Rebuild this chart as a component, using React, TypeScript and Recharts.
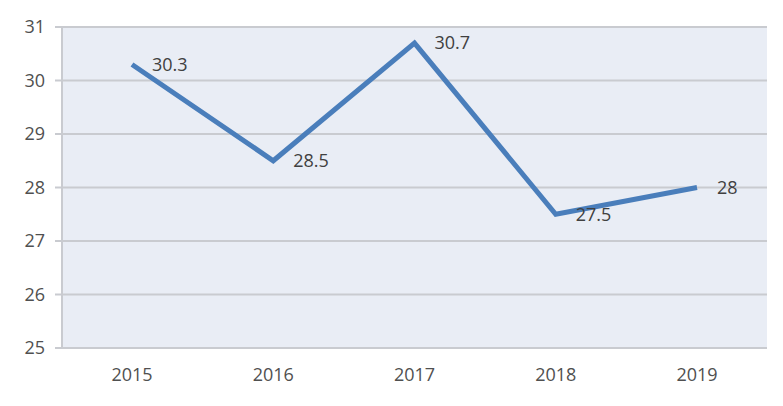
import { LineChart, Line, XAxis, YAxis, CartesianGrid, LabelList } from "recharts"

const years = ["2015", "2016", "2017", "2018", "2019"]
const values = [30.3, 28.5, 30.7, 27.5, 28]
const yTicks = [25, 26, 27, 28, 29, 30, 31]

const data = years.map((year, i) => ({ year, value: values[i] }))

const font = "'Open Sans', 'Liberation Sans', sans-serif"
const textColor = "#505050"

export default function App() {
  return (
    <div style={{ position: "absolute", left: 0, top: 0, background: "#fff" }}>
      <LineChart width={783} height={406} data={data} margin={{ top: 27, right: 16, bottom: 28, left: 0 }}>
        <CartesianGrid vertical={false} fill="#e9edf5" stroke="#c9cbd0" strokeWidth={2} />
        <XAxis
          dataKey="year"
          padding={{ left: 70, right: 70 }}
          axisLine={{ stroke: "#c9cbd0", strokeWidth: 2 }}
          tickLine={false}
          height={30}
          tick={{ fill: textColor, fontSize: 18, fontFamily: font }}
          tickMargin={14}
        />
        <YAxis
          domain={[25, 31]}
          ticks={yTicks}
          width={62}
          axisLine={{ stroke: "#c9cbd0", strokeWidth: 2 }}
          tickLine={{ stroke: "#c9cbd0", strokeWidth: 2 }}
          tickSize={7}
          tick={{ fill: textColor, fontSize: 18, fontFamily: font }}
          tickMargin={10}
        />
        <Line
          type="linear"
          dataKey="value"
          stroke="#4a7ebb"
          strokeWidth={5}
          dot={false}
          isAnimationActive={false}
        >
          <LabelList
            dataKey="value"
            position="right"
            offset={20}
            fill="#404040"
            fontSize={18}
            fontFamily={font}
          />
        </Line>
      </LineChart>
    </div>
  )
}
